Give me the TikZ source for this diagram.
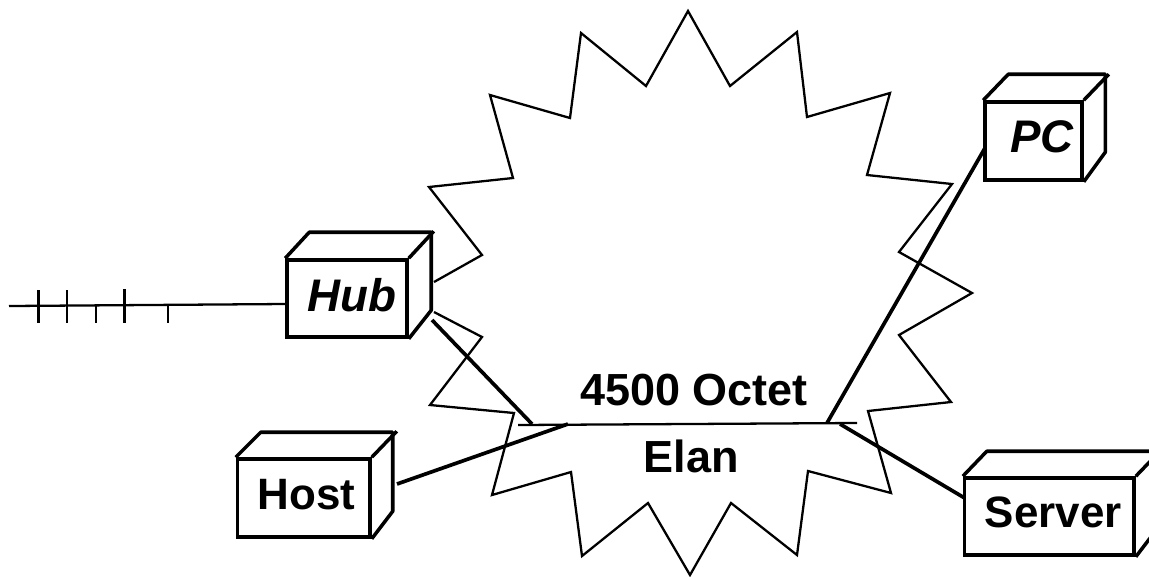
\documentclass[tikz,border=0pt]{standalone}
\usepackage{fontspec}
\setmainfont{Liberation Sans}
\tikzset{
  boxfront/.style={draw, line width=2pt, inner sep=0pt, text depth=1.6mm,
    font=\fontsize{25}{30}\selectfont\bfseries},
  boxitalic/.style={boxfront, font=\fontsize{26}{30}\selectfont\bfseries\itshape},
  boxside/.style={line width=2pt, line join=round},
  link/.style={line width=2.1pt},
  starline/.style={line width=1.3pt, line join=miter},
  lanline/.style={line width=1.3pt},
  lantext/.style={font=\fontsize{25.6}{30}\selectfont\bfseries, inner sep=0pt}
}

\begin{document}
\begin{tikzpicture}[x=0.2mm,y=-0.2mm]
\useasboundingbox (0,0) rectangle (1149,576);

% elan outline
\draw[starline] (434,282) -- (482,255) -- (429,187) -- (513,178) -- (490,95)
  -- (570,118) -- (581,33) -- (646,86) -- (688,11) -- (730,86) -- (797,32)
  -- (807,117) -- (890,93) -- (867,175) -- (952,184) -- (899,252) -- (972,293)
  -- (899,335) -- (951,402) -- (868,411) -- (891,493) -- (808,471) -- (797,555)
  -- (731,503) -- (690,575) -- (648,503) -- (582,556) -- (571,472) -- (492,495)
  -- (514,413) -- (430,405) -- (482,337) -- (434,312);

% bus
\coordinate (busleft) at (518,425);
\coordinate (busright) at (857,423);
\draw[lanline] (busleft) -- (busright);
\node[lantext] (octet) at (694,390) {4500 Octet};
\node[lantext] (elan) at (691,456) {Elan};

% hub
\node[boxitalic, minimum width=24mm, minimum height=15.4mm] (hub) at (347,298.5) {\hspace*{2mm}Hub};
\draw[boxside] (hub.north west) -- ++(24,-26) -- ++(122,0) -- ++(0,78) -- (hub.south east);
\draw[boxside] (hub.north east) -- ++(25,-27);

% host
\node[boxfront, minimum width=26.5mm, minimum height=15.6mm] (host) at (303.75,498) {\hspace*{1.2mm}Host};
\draw[boxside] (host.north west) -- ++(25,-25) -- ++(132,0) -- ++(0,79) -- (host.south east);
\draw[boxside] (host.north east) -- ++(25,-26);

% server
\node[boxfront, minimum width=33.9mm, minimum height=15.4mm] (server) at (1049.3,516.5) {\hspace*{1.6mm}Server};
\draw[boxside] (server.north west) -- ++(24,-25) -- ++(170,0) -- ++(0,78) -- (server.south east);
\draw[boxside] (server.north east) -- ++(25,-26);

% pc
\node[boxitalic, minimum width=19.4mm, minimum height=15.6mm] (pc) at (1033.5,141) {\hspace*{3.4mm}PC};
\draw[boxside] (pc.north west) -- ++(25,-26) -- ++(97,0) -- ++(0,78) -- (pc.south east);
\draw[boxside] (pc.north east) -- ++(25,-26);

% connectors
\coordinate (hubport) at (432,320);
\coordinate (hubtap) at (532,424);
\coordinate (hosttap) at (568,424);
\coordinate (hostport) at (397,484);
\coordinate (pcport) at (985,148);
\coordinate (pctap) at (827,423);
\coordinate (servertap) at (840,424);
\coordinate (serverport) at (964.6,498);
\draw[link] (hubport) -- (hubtap);
\draw[link] (hostport) -- (hosttap);
\draw[link] (pcport) -- (pctap);
\draw[link] (servertap) -- (serverport);

% stub with taps
\coordinate (stubend) at (9,306);
\draw[lanline] (stubend) -- (hub.west |- 0,304);
\draw[lanline] (38.6,290) -- (38.6,323);
\draw[lanline] (67,290) -- (67,323);
\draw[lanline] (96,306) -- (96,323);
\draw[lanline] (124.6,289) -- (124.6,323);
\draw[lanline] (168,306) -- (168,323);

\end{tikzpicture}
\end{document}
